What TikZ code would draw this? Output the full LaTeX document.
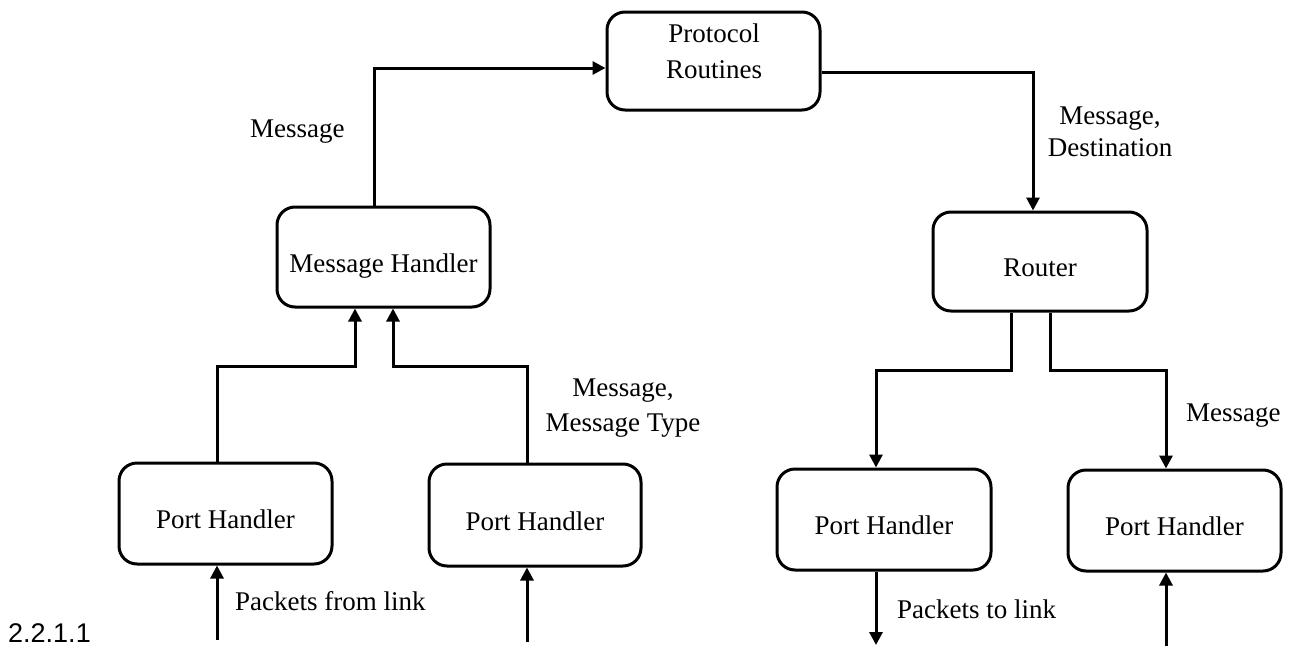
\documentclass[tikz,border=0pt]{standalone}
\usepackage{fontspec}
\setmainfont{Liberation Serif}
\newfontfamily\numfont{Liberation Sans}
\usetikzlibrary{arrows.meta}
\newcommand{\bxt}[1]{\raisebox{-15pt}[0pt][0pt]{#1}}
\begin{document}
\begin{tikzpicture}[x=1pt,y=-1pt,
  every node/.style={font=\fontsize{27}{35}\selectfont, inner sep=0pt},
  procbox/.style={draw, line width=3pt, rounded corners=18pt, minimum width=213pt, minimum height=100pt},
  conn/.style={line width=3pt, -{Triangle[length=13pt,width=13pt]}}]
\useasboundingbox (0,0) rectangle (1291,648);

% boxes
\node[procbox, minimum height=98pt] (prot) at (713.5,61) {};
\node[anchor=north, align=center, font=\fontsize{27}{36}\selectfont] (protT) at (714,23.6) {Protocol\\Routines};
\node[procbox] (mh) at (383.5,257) {\bxt{Message Handler}};
\node[procbox, minimum width=214pt, minimum height=99pt] (router) at (1040,261.5) {\bxt{Router}};
\node[procbox, minimum height=101pt] (ph1) at (225.5,513.5) {\bxt{Port Handler}};
\node[procbox, minimum width=212pt, minimum height=102pt] (ph2) at (535,515) {\bxt{Port Handler}};
\node[procbox, minimum width=214pt, minimum height=101pt] (ph3) at (884,519.5) {\bxt{Port Handler}};
\node[procbox, minimum height=101pt] (ph4) at (1174.5,520.5) {\bxt{Port Handler}};

% connectors
\draw[conn] ([xshift=-9.5pt]mh.north) |- ([yshift=-7pt]prot.west);
\draw[conn] ([yshift=-11pt]prot.east) -| ([xshift=-7pt]router.north);
\draw[conn] ([xshift=-8.5pt]ph1.north) |- ([xshift=-28.5pt,yshift=-58pt]mh.south) -- ([xshift=-28.5pt]mh.south);
\draw[conn] ([xshift=-8pt]ph2.north) |- ([xshift=9.5pt,yshift=-58pt]mh.south) -- ([xshift=9.5pt]mh.south);
\draw[conn] ([xshift=-29pt]router.south) -- ++(0,58) -| ([xshift=-8pt]ph3.north);
\draw[conn] ([xshift=10pt]router.south) -- ++(0,58) -| ([xshift=-8.5pt]ph4.north);

\coordinate (in1) at (217,640);
\coordinate (in2) at (527,642);
\coordinate (out3) at (876,645);
\coordinate (in4) at (1166,646);
\draw[conn] (in1) -- (in1 |- ph1.south);
\draw[conn] (in2) -- (in2 |- ph2.south);
\draw[conn] (out3 |- ph3.south) -- (out3);
\draw[conn] (in4) -- (in4 |- ph4.south);

% labels
\node[anchor=base west] (lmsg) at (250,137) {Message};
\node[anchor=north, align=center, font=\fontsize{27}{32}\selectfont] (lmd) at (1110,107) {Message,\\Destination};
\node[anchor=north, align=center] (lmt) at (623,379) {Message,\\Message Type};
\node[anchor=base west] (lrm) at (1186,421) {Message};
\node[anchor=base west] (lpf) at (235,610) {Packets from link};
\node[anchor=base west] (lpt) at (897,618) {Packets to link};
\node[anchor=base west, font=\numfont\fontsize{27}{32}\selectfont] (num) at (8,642) {2.2.1.1};
\end{tikzpicture}
\end{document}
